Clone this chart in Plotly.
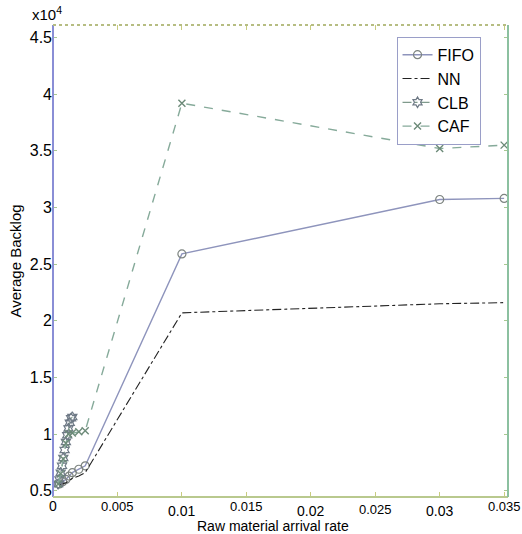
import plotly.graph_objects as go

# Average backlog versus raw material arrival rate for four dispatching rules
fifo_x = [0.0005, 0.00075, 0.001, 0.00125, 0.0015, 0.002, 0.0025, 0.01, 0.03, 0.035]
fifo_y = [5600, 5800, 6000, 6300, 6600, 6900, 7200, 25900, 30700, 30800]

nn_x = [0.0005, 0.00075, 0.001, 0.00125, 0.0015, 0.002, 0.0025, 0.01, 0.03, 0.035]
nn_y = [5500, 5600, 5700, 5900, 6100, 6300, 6600, 20700, 21500, 21600]

clb_x = [0.0004, 0.0005, 0.0006, 0.0007, 0.0008, 0.0009, 0.001, 0.0011, 0.0012, 0.0013, 0.0014, 0.0015]
clb_y = [5600, 6000, 6600, 7200, 7900, 8600, 9300, 9900, 10500, 11000, 11400, 11500]

caf_x = [0.0004, 0.0006, 0.0008, 0.001, 0.0012, 0.0015, 0.002, 0.0025, 0.01, 0.03, 0.035]
caf_y = [5600, 6500, 7800, 9200, 10000, 10100, 10200, 10300, 39200, 35200, 35500]

x_ticks = [0, 0.005, 0.01, 0.015, 0.02, 0.025, 0.03, 0.035]
x_tick_text = ["0", "0.005", "0.01", "0.015", "0.02", "0.025", "0.03", "0.035"]
y_ticks = [5000, 10000, 15000, 20000, 25000, 30000, 35000, 40000, 45000]
y_tick_text = ["0.5", "1", "1.5", "2", "2.5", "3", "3.5", "4", "4.5"]

FONT = "Liberation Sans, Arial, sans-serif"

fig = go.Figure()
fig.add_trace(go.Scatter(
    x=fifo_x, y=fifo_y, name="FIFO", mode="lines+markers",
    line=dict(color="#8e94bc", width=1.4),
    marker=dict(symbol="circle-open", size=8, color="#7d8480", line=dict(width=1.2)),
))
fig.add_trace(go.Scatter(
    x=nn_x, y=nn_y, name="NN", mode="lines",
    line=dict(color="#222222", width=1.1, dash="dashdot"),
))
fig.add_trace(go.Scatter(
    x=clb_x, y=clb_y, name="CLB", mode="lines+markers",
    line=dict(color="#7f9a8c", width=1.2, dash="dashdot"),
    marker=dict(symbol="hexagram-open", size=8, color="#6f7a86", line=dict(width=1.2)),
))
fig.add_trace(go.Scatter(
    x=caf_x, y=caf_y, name="CAF", mode="lines+markers",
    line=dict(color="#86aa9a", width=1.4, dash="dash"),
    marker=dict(symbol="x-thin-open", size=7, color="#6c8a78", line=dict(width=1.4)),
))

# x tick labels drawn as staggered text below the axis
offsets = [-9, -9, -14, -9, -14, -12, -14, -9]
sizes = [14, 13, 14, 13, 14, 13, 14, 13]
for v, t, dy, s in zip(x_ticks, x_tick_text, offsets, sizes):
    fig.add_annotation(
        x=v, y=0, xref="x", yref="paper", text=t, showarrow=False,
        yshift=dy, xanchor="center", yanchor="middle",
        font=dict(family=FONT, size=s, color="black"),
    )

# x axis title
fig.add_annotation(
    x=0.5, y=0, xref="paper", yref="paper", text="Raw material arrival rate",
    showarrow=False, xanchor="center", yanchor="middle", yshift=-29, xshift=-8,
    font=dict(family=FONT, size=14, color="black"),
)

fig.add_annotation(
    x=0, y=1, xref="paper", yref="paper", text="x10<sup>4</sup>", showarrow=False,
    xanchor="center", yanchor="bottom", xshift=-6, yshift=0,
    font=dict(family=FONT, size=15, color="black"),
)

# plot frame
fig.add_shape(type="line", xref="paper", yref="paper", x0=0, x1=0, y0=0, y1=1,
              line=dict(color="#8a8ed6", width=2))
fig.add_shape(type="line", xref="paper", yref="paper", x0=0, x1=1, y0=1, y1=1,
              line=dict(color="#b6bd82", width=2, dash="dot"))
fig.add_shape(type="line", xref="paper", yref="paper", x0=0, x1=1, y0=0, y1=0,
              line=dict(color="#b9c98e", width=2))
fig.add_shape(type="line", xref="paper", yref="paper", x0=1, x1=1, y0=0, y1=1,
              line=dict(color="#8cc0a0", width=2))

fig.update_layout(
    width=522, height=534,
    margin=dict(l=53, r=14, t=25, b=37),
    paper_bgcolor="white", plot_bgcolor="white",
    font=dict(family=FONT, size=15, color="black"),
    showlegend=True,
    legend=dict(
        x=0.755, y=0.975, xanchor="left", yanchor="top",
        bgcolor="white", bordercolor="#9a9ec8", borderwidth=1,
        font=dict(family=FONT, size=16, color="black"),
        tracegroupgap=0, itemwidth=30,
    ),
    xaxis=dict(
        range=[0, 0.0353], showgrid=False, zeroline=False,
        tickvals=x_ticks, showticklabels=False,
        ticks="inside", ticklen=5, tickcolor="#c8cc80",
        mirror="ticks", showline=False,
    ),
    yaxis=dict(
        range=[4450, 46100], showgrid=False, zeroline=False,
        tickvals=y_ticks, ticktext=y_tick_text,
        ticks="inside", ticklen=4, tickcolor="#a8c890",
        mirror="ticks", showline=False,
        tickfont=dict(family=FONT, size=16),
        title=dict(text="Average Backlog", standoff=4,
                   font=dict(family=FONT, size=15)),
    ),
)

fig.write_html("out.html")
